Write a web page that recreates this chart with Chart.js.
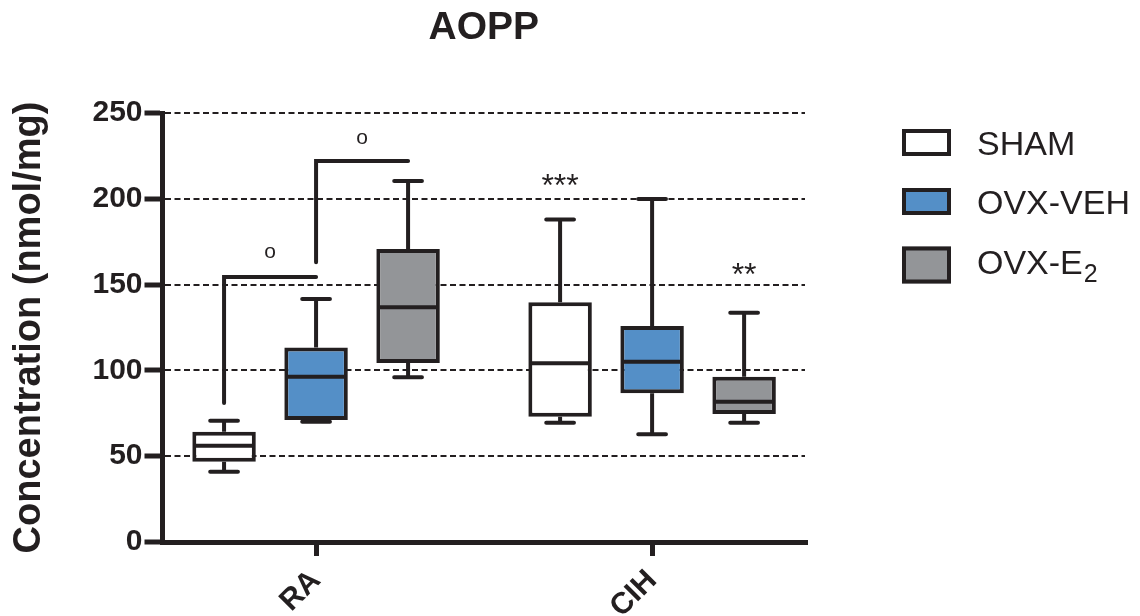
<!DOCTYPE html>
<html><head><meta charset="utf-8">
<script src="https://cdn.jsdelivr.net/npm/chart.js@4/dist/chart.umd.min.js"></script>
<style>html,body{margin:0;padding:0;background:#fff}</style>
</head><body>
<canvas id="c" width="1140" height="616" style="width:1140px;height:616px;display:block"></canvas>
<script>
const categories = ['RA', 'CIH'];
const seriesNames = ['SHAM', 'OVX-VEH', 'OVX-E₂'];
// values per series, per category [RA, CIH]
const whiskerMin = [[41.0, 69.5], [70.1, 62.8], [96.0, 69.5]];
const q1 = [[46.8, 73.0], [71.1, 86.7], [104.3, 74.6]];
const median = [[56.1, 104.1], [96.3, 105.1], [136.8, 81.8]];
const q3 = [[64.3, 139.7], [113.4, 125.9], [170.7, 96.3]];
const whiskerMax = [[70.7, 188.0], [141.6, 199.9], [210.4, 133.6]];
const yTickValues = [0, 50, 100, 150, 200, 250];
// significance brackets: [category, fromSeries, toSeries, startValue, barValue]
const brackets = [[0, 0, 1, 81, 154.4], [0, 1, 2, 163, 222]];
// significance marks: [category, seriesPosition, value, text]
const sigMarks = [[0, 0.5, 168.5, 'o'], [0, 1.5, 235.3, 'o'], [1, 0, 209.5, '***'], [1, 2, 157.5, '**']];

const INK = '#231F20';
const fills = ['#FFFFFF', '#548FC7', '#939598'];
Chart.defaults.font.family = '"Liberation Sans", Arial, Helvetica, sans-serif';
Chart.defaults.color = INK;

const boxPlugin = {
  id: 'boxWhiskers',
  afterDatasetsDraw(chart) {
    const ctx = chart.ctx, y = chart.scales.y;
    ctx.save();
    ctx.strokeStyle = INK;
    ctx.lineWidth = 4;
    chart.data.datasets.forEach((ds, s) => {
      chart.getDatasetMeta(s).data.forEach((bar, i) => {
        const p = bar.getProps(['x', 'width'], true);
        const x = p.x, w = p.width;
        const yMin = y.getPixelForValue(whiskerMin[s][i]);
        const yMax = y.getPixelForValue(whiskerMax[s][i]);
        const yQ1 = y.getPixelForValue(q1[s][i]);
        const yQ3 = y.getPixelForValue(q3[s][i]);
        const yMed = y.getPixelForValue(median[s][i]);
        ctx.lineCap = 'butt';
        ctx.beginPath();
        ctx.moveTo(x, yQ3); ctx.lineTo(x, yMax);
        ctx.moveTo(x, yQ1); ctx.lineTo(x, yMin);
        ctx.moveTo(x - w / 2 + 2, yMed); ctx.lineTo(x + w / 2 - 2, yMed);
        ctx.stroke();
        ctx.lineCap = 'round';
        ctx.beginPath();
        ctx.moveTo(x - w / 4 + 2, yMax); ctx.lineTo(x + w / 4 - 2, yMax);
        ctx.moveTo(x - w / 4 + 2, yMin); ctx.lineTo(x + w / 4 - 2, yMin);
        ctx.stroke();
      });
    });
    // significance brackets
    ctx.lineWidth = 4;
    ctx.lineJoin = 'miter';
    brackets.forEach(([c, a, b, v0, v1]) => {
      const xa = chart.getDatasetMeta(a).data[c].x;
      const xb = chart.getDatasetMeta(b).data[c].x;
      ctx.lineCap = 'round';
      ctx.beginPath();
      ctx.moveTo(xa, y.getPixelForValue(v0));
      ctx.lineTo(xa, y.getPixelForValue(v1));
      ctx.lineTo(xb, y.getPixelForValue(v1));
      ctx.stroke();
    });
    ctx.fillStyle = INK;
    ctx.textAlign = 'center';
    ctx.textBaseline = 'alphabetic';
    sigMarks.forEach(([c, pos, v, t]) => {
      const s0 = Math.floor(pos), f = pos - s0;
      const xa = chart.getDatasetMeta(s0).data[c].x;
      const xb = f > 0 ? chart.getDatasetMeta(s0 + 1).data[c].x : xa;
      const x = xa + (xb - xa) * f;
      const yp = y.getPixelForValue(v);
      if (t === 'o') {
        ctx.font = '21px "Liberation Sans", Arial, sans-serif';
        ctx.fillText(t, x, yp + 0.26 * 21);
      } else {
        ctx.font = '32px "Liberation Sans", Arial, sans-serif';
        ctx.fillText(t, x, yp + 0.42 * 32);
      }
    });
    ctx.restore();
  }
};

const legendPlugin = {
  id: 'sideLegend',
  afterDraw(chart) {
    const ctx = chart.ctx, area = chart.chartArea;
    const bx = area.right + 97, bw = 49;
    const rowY = [area.top + 29.5, area.top + 88.5, area.top + 148.5];
    ctx.save();
    chart.data.datasets.forEach((ds, s) => {
      const name = seriesNames[s];
      const hasSub = name.indexOf('₂') >= 0;
      const bh = hasSub ? 37 : 27;
      const cy = rowY[s] + (hasSub ? 3.5 : 0);
      ctx.fillStyle = ds.backgroundColor;
      ctx.fillRect(bx, cy - bh / 2, bw, bh);
      ctx.strokeStyle = INK;
      ctx.lineWidth = 4;
      ctx.strokeRect(bx + 2, cy - bh / 2 + 2, bw - 4, bh - 4);
      ctx.fillStyle = INK;
      ctx.textAlign = 'left';
      ctx.textBaseline = 'alphabetic';
      ctx.font = '34px "Liberation Sans", Arial, sans-serif';
      const base = rowY[s] + 0.358 * 34;
      const tx = bx + bw + 26;
      if (hasSub) {
        const main = name.replace('₂', '');
        ctx.fillText(main, tx, base);
        const mw = ctx.measureText(main).width;
        ctx.font = '25px "Liberation Sans", Arial, sans-serif';
        ctx.fillText('2', tx + mw + 1, base + 8);
      } else {
        ctx.fillText(name, tx, base);
      }
    });
    ctx.restore();
  }
};

new Chart(document.getElementById('c'), {
  type: 'bar',
  data: {
    labels: categories,
    datasets: seriesNames.map((n, s) => ({
      label: n,
      data: categories.map((c, i) => [q1[s][i], q3[s][i]]),
      backgroundColor: fills[s],
      borderColor: INK,
      borderWidth: 4,
      borderSkipped: false,
      categoryPercentage: 0.8214,
      barPercentage: 0.69
    }))
  },
  options: {
    responsive: false,
    animation: false,
    devicePixelRatio: 1,
    layout: { padding: { left: 0, right: 335, top: 0, bottom: 0 } },
    plugins: {
      legend: { display: false },
      tooltip: { enabled: false },
      title: {
        display: true, text: 'AOPP', fullSize: false, color: INK,
        font: { size: 39, weight: 'bold' },
        padding: { top: 5, bottom: 61.2 }
      }
    },
    scales: {
      x: {
        offset: false,
        afterBuildTicks: (scale) => { scale._startValue = -0.457; scale._valueRange = 1.912; },
        afterFit: (scale) => { scale.height = 74; },
        grid: { display: true, drawOnChartArea: false, drawTicks: true, offset: false,
                tickLength: 14, tickWidth: 5, tickColor: INK, color: INK, lineWidth: 5 },
        border: { display: true, width: 5, color: INK },
        ticks: { font: { size: 30, weight: 'bold' }, color: INK, minRotation: 45, maxRotation: 45,
                 autoSkip: false, padding: 7 }
      },
      y: {
        min: 0, max: 250,
        afterBuildTicks: (scale) => { scale.ticks = yTickValues.map(v => ({ value: v })); },
        afterFit: (scale) => { scale.width = 162.5; },
        grid: { display: true, drawOnChartArea: true, drawTicks: true, color: INK, lineWidth: 2,
                tickLength: 18, tickWidth: 5, tickColor: INK, tickBorderDash: [] },
        border: { display: true, width: 5, color: INK, dash: [6, 3.5] },
        ticks: { font: { size: 30, weight: 'bold' }, color: INK, padding: 2 },
        title: { display: true, text: 'Concentration (nmol/mg)', color: INK,
                 font: { size: 38, weight: 'bold' }, padding: { top: 7, bottom: 0 } }
      }
    }
  },
  plugins: [boxPlugin, legendPlugin]
});
</script>
</body></html>
